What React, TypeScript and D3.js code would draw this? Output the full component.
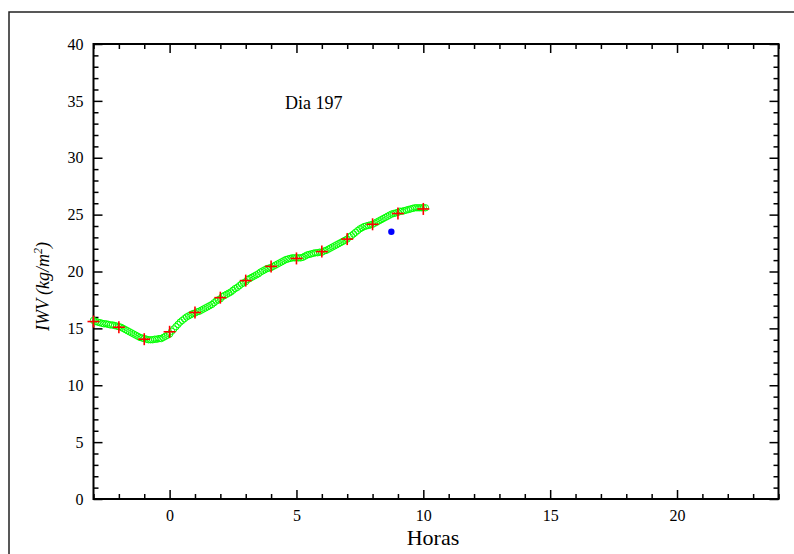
import { useEffect, useRef } from "react";
import * as d3 from "d3";

// IWV (kg/m2) sampled every 5 minutes from -3 h to 10 h
const sampleStart = -3;
const samplesPerHour = 12;
const iwvSamples = [
  15.7, 15.6, 15.55, 15.5, 15.45, 15.4, 15.4, 15.35, 15.3, 15.3, 15.25, 15.2,
  15.15, 15.1, 15.0, 14.9, 14.8, 14.7, 14.6, 14.5, 14.4, 14.3, 14.2, 14.15,
  14.1, 14.05, 14.0, 14.0, 14.0, 14.05, 14.05, 14.1, 14.1, 14.2, 14.3, 14.4,
  14.5, 14.75, 14.95, 15.15, 15.35, 15.55, 15.7, 15.85, 16.0, 16.1, 16.2, 16.3,
  16.35, 16.45, 16.5, 16.6, 16.7, 16.8, 16.9, 17.0, 17.1, 17.25, 17.4, 17.5,
  17.6, 17.8, 17.9, 18.0, 18.1, 18.2, 18.35, 18.5, 18.6, 18.75, 18.9, 19.0,
  19.1, 19.3, 19.4, 19.5, 19.6, 19.7, 19.8, 19.95, 20.05, 20.15, 20.25, 20.3,
  20.35, 20.45, 20.55, 20.65, 20.75, 20.85, 20.95, 21.05, 21.1, 21.15, 21.2, 21.2,
  21.2, 21.2, 21.2, 21.25, 21.35, 21.45, 21.5, 21.55, 21.6, 21.65, 21.65, 21.7,
  21.7, 21.8, 21.85, 21.95, 22.05, 22.15, 22.25, 22.35, 22.45, 22.55, 22.65, 22.75,
  22.85, 23.05, 23.15, 23.3, 23.45, 23.6, 23.75, 23.85, 23.95, 24.0, 24.05, 24.1,
  24.15, 24.25, 24.35, 24.45, 24.55, 24.65, 24.75, 24.85, 24.95, 25.05, 25.1, 25.15,
  25.2, 25.3, 25.3, 25.35, 25.4, 25.45, 25.5, 25.55, 25.6, 25.6, 25.6, 25.6,
  25.6, 25.6,
];

// hourly values (red crosses)
const hourlyHours = [-3, -2, -1, 0, 1, 2, 3, 4, 5, 6, 7, 8, 9, 10];
const hourlyIwv = [15.6, 15.1, 14.05, 14.7, 16.4, 17.7, 19.2, 20.45, 21.15, 21.75, 22.85, 24.15, 25.1, 25.5];

// single blue point
const blueHour = 8.74;
const blueIwv = 23.5;

const xMajor = [0, 5, 10, 15, 20];
const yMajor = [0, 5, 10, 15, 20, 25, 30, 35, 40];

export default function App() {
  const ref = useRef<SVGSVGElement | null>(null);

  useEffect(() => {
    document.body.style.margin = "0";
    if (!ref.current) return;
    const w = 794,
      h = 554;
    const m = { left: 93.5, right: 778.5, top: 44, bottom: 499 };
    const font = "Liberation Serif";

    const svg = d3.select(ref.current);
    svg.selectAll("*").remove();
    svg.attr("width", w).attr("height", h).style("display", "block").style("font-family", font);

    const x = d3.scaleLinear().domain([-3, 24]).range([m.left, m.right]);
    const y = d3.scaleLinear().domain([0, 40]).range([m.bottom, m.top]);

    // outer page frame
    svg
      .append("rect")
      .attr("x", 9)
      .attr("y", 12)
      .attr("width", 900)
      .attr("height", 700)
      .attr("fill", "none")
      .attr("stroke", "#222")
      .attr("stroke-width", 1.5);

    const xMinor = d3.range(-3, 25).filter((v) => v % 5 !== 0);
    const yMinor = d3.range(0, 41).filter((v) => v % 5 !== 0);

    const styleAxis = (g: any) => {
      g.attr("font-family", null).attr("font-size", null);
      g.select(".domain").remove();
      g.selectAll("line").attr("stroke", "#000").attr("stroke-width", 1.5);
      g.selectAll("text").style("font-family", font).style("font-size", "16px").attr("fill", "#000");
    };

    const addX = (pos: number, axisFn: any, values: number[], size: number, labels: boolean) =>
      svg
        .append("g")
        .attr("transform", `translate(0,${pos})`)
        .call(
          axisFn(x)
            .tickValues(values)
            .tickSize(size)
            .tickPadding(11)
            .tickFormat(labels ? d3.format("d") : () => "")
        )
        .call(styleAxis);
    const addY = (pos: number, axisFn: any, values: number[], size: number, labels: boolean) =>
      svg
        .append("g")
        .attr("transform", `translate(${pos},0)`)
        .call(
          axisFn(y)
            .tickValues(values)
            .tickSize(size)
            .tickPadding(10)
            .tickFormat(labels ? d3.format("d") : () => "")
        )
        .call(styleAxis);

    addX(m.bottom, d3.axisBottom, xMajor, -9, true);
    addX(m.bottom, d3.axisBottom, xMinor, -5, false);
    addX(m.top, d3.axisTop, xMajor, -9, false);
    addX(m.top, d3.axisTop, xMinor, -5, false);
    addY(m.left, d3.axisLeft, yMajor, -9, true);
    addY(m.left, d3.axisLeft, yMinor, -5, false);
    addY(m.right, d3.axisRight, yMajor, -9, false);
    addY(m.right, d3.axisRight, yMinor, -5, false);

    // plot frame
    svg
      .append("rect")
      .attr("x", m.left)
      .attr("y", m.top)
      .attr("width", m.right - m.left)
      .attr("height", m.bottom - m.top)
      .attr("fill", "none")
      .attr("stroke", "#000")
      .attr("stroke-width", 2);

    // green open circles
    svg
      .append("g")
      .selectAll("circle")
      .data(iwvSamples)
      .join("circle")
      .attr("cx", (_d, i) => x(sampleStart + i / samplesPerHour))
      .attr("cy", (d) => y(d))
      .attr("r", 3.2)
      .attr("fill", "none")
      .attr("stroke", "#00ff00")
      .attr("stroke-width", 1);

    // red crosses
    const cg = svg.append("g").attr("stroke", "#ff0000").attr("stroke-width", 1.6);
    hourlyHours.forEach((hr, i) => {
      const cx = x(hr),
        cy = y(hourlyIwv[i]);
      cg.append("line").attr("x1", cx - 6).attr("x2", cx + 6).attr("y1", cy).attr("y2", cy);
      cg.append("line").attr("x1", cx).attr("x2", cx).attr("y1", cy - 6).attr("y2", cy + 6);
    });

    // blue point
    svg
      .append("circle")
      .attr("cx", x(blueHour))
      .attr("cy", y(blueIwv))
      .attr("r", 3.2)
      .attr("fill", "#0000ff");

    // labels
    svg
      .append("text")
      .attr("x", 285)
      .attr("y", 109)
      .style("font-family", font)
      .style("font-size", "18px")
      .text("Dia 197");

    svg
      .append("text")
      .attr("x", (m.left + m.right) / 2 - 3)
      .attr("y", 545)
      .attr("text-anchor", "middle")
      .style("font-family", font)
      .style("font-size", "22px")
      .text("Horas");

    const yl = svg
      .append("text")
      .attr("transform", `translate(49,${(m.top + m.bottom) / 2 + 15}) rotate(-90)`)
      .attr("text-anchor", "middle")
      .style("font-family", font)
      .style("font-style", "italic")
      .style("font-size", "18px");
    yl.append("tspan").text("IWV (kg/m");
    yl.append("tspan").attr("dy", -7).style("font-size", "12px").text("2");
    yl.append("tspan").attr("dy", 7).text(")");
  }, []);

  return <svg ref={ref} />;
}
